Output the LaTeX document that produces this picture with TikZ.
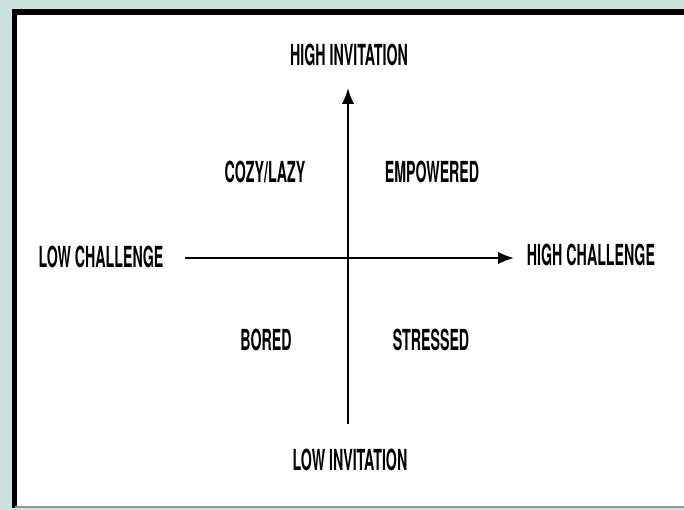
\documentclass[tikz,border=0pt]{standalone}
\usepackage{fontspec}
\setmainfont{TeX Gyre Heros}[FakeStretch=0.49]
\usetikzlibrary{arrows.meta}
\definecolor{paneteal}{RGB}{205,226,223}
\definecolor{rimgray}{RGB}{150,150,150}
\tikzset{
	lbl/.style={font=\fontsize{16.5}{18}\selectfont\bfseries, inner sep=0pt},
	axis/.style={line width=1.2pt, -{Latex[length=9pt,width=7pt]}}
}
\begin{document}
\begin{tikzpicture}[x=0.02cm, y=-0.02cm]
\useasboundingbox (0,0) rectangle (684,510);
\fill[paneteal] (0,0) rectangle (684,510);
\fill[white] (14.5,12) rectangle (684,507.5);
\draw[line width=5pt*0.57] (14.5,507.5) -- (14.5,12) -- (684,12);
\draw[rimgray, line width=1pt] (14.5,507) -- (684,507);

		\node [] (0) at (348, 258) {};
		\node [] (1) at (348, 424) {};
		\node [] (2) at (348, 88) {};
		\node [] (3) at (185, 258) {};
		\node [] (4) at (514, 258) {};

		\draw [axis] (1.center) to (2.center);
		\draw [axis] (3.center) to (4.center);

\node [lbl] (hi) at (349, 55) {HIGH INVITATION};
\node [lbl] (lo) at (350, 460) {LOW INVITATION};
\node [lbl] (lc) at (101, 257) {LOW CHALLENGE};
\node [lbl] (hc) at (591, 255) {HIGH CHALLENGE};
\node [lbl] (cz) at (265, 172) {COZY/LAZY};
\node [lbl] (em) at (432, 172) {EMPOWERED};
\node [lbl] (bo) at (266, 340) {BORED};
\node [lbl] (st) at (431, 340) {STRESSED};
\end{tikzpicture}
\end{document}
